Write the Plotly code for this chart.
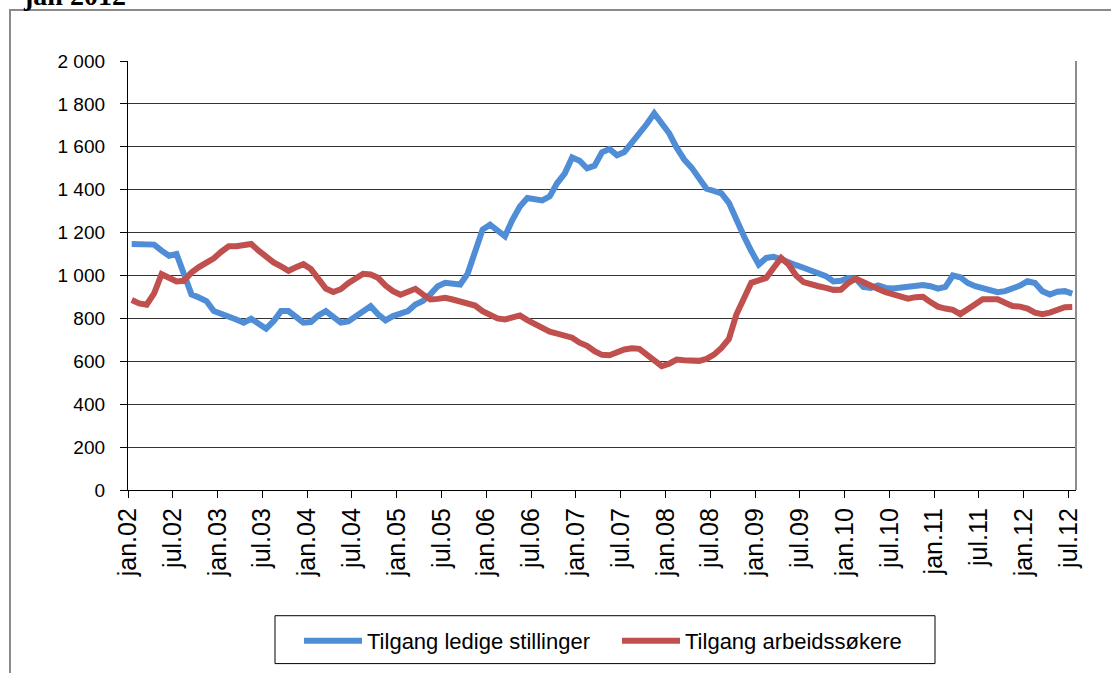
import plotly.graph_objects as go

# ---- data (monthly, jan.02 .. jul.12) ----
years = list(range(2002, 2013))
month_names = ["jan", "feb", "mar", "apr", "mai", "jun", "jul", "aug", "sep", "okt", "nov", "des"]
months = [f"{m}.{y % 100:02d}" for y in years for m in month_names][:127]

ledige_stillinger = [
    1147, 1147, 1145, 1144, 1116, 1092, 1100, 998, 912, 897, 881, 834,
    822, 814, 795, 780, 798, 775, 752, 787, 834, 834, 803, 780,
    783, 814, 834, 808, 780, 786, 812, 834, 857, 819, 791, 811,
    826, 834, 865, 881, 912, 950, 966, 963, 958, 1009, 1121, 1214,
    1237, 1214, 1183, 1260, 1322, 1361, 1353, 1350, 1369, 1431, 1475, 1550,
    1535, 1500, 1512, 1574, 1590, 1561, 1576, 1616, 1656, 1706, 1756, 1705,
    1663, 1596, 1541, 1503, 1456, 1405, 1394, 1383, 1339, 1258, 1184, 1114,
    1051, 1082, 1087, 1075, 1059, 1048, 1036, 1025, 1009, 997, 972, 975,
    988, 985, 947, 942, 954, 942, 939, 944, 947, 950, 956, 950,
    939, 947, 1000, 992, 965, 950, 942, 927, 922, 927, 939, 953,
    973, 965, 927, 911, 924, 927, 916,
]

arbeidssokere = [
    886, 870, 864, 917, 1006, 986, 972, 975, 1014, 1039, 1056, 1080,
    1111, 1136, 1136, 1139, 1147, 1116, 1084, 1061, 1042, 1022, 1038, 1053,
    1030, 983, 939, 923, 936, 964, 990, 1008, 1005, 989, 953, 927,
    910, 927, 938, 912, 888, 891, 896, 888, 881, 873, 860, 834,
    816, 800, 795, 806, 814, 792, 772, 754, 738, 729, 721, 710,
    687, 672, 647, 630, 628, 642, 655, 661, 658, 631, 600, 577,
    589, 608, 605, 600, 602, 611, 631, 662, 704, 818, 888, 966,
    977, 989, 1036, 1082, 1051, 1000, 969, 956, 950, 942, 933, 934,
    965, 985, 968, 947, 937, 922, 911, 899, 892, 899, 901, 876,
    855, 846, 840, 820, 840, 866, 889, 892, 889, 873, 858, 855,
    846, 827, 820, 827, 843, 852, 853,
]

series_names = ["Tilgang ledige stillinger", "Tilgang arbeidssøkere"]
colors = ["#4F8DD6", "#C0504D"]

y_tickvals = list(range(0, 2001, 200))
y_ticktext = ["0", "200", "400", "600", "800", "1 000", "1 200", "1 400", "1 600", "1 800", "2 000"]

x_tick_labels = [m for m in months[::6]]
x_index = list(range(len(months)))
x_tickvals = [i - 0.5 for i in range(0, len(months), 6)]

FONT = "Liberation Sans, Arial, sans-serif"

fig = go.Figure()
for name, vals, col in zip(series_names, [ledige_stillinger, arbeidssokere], colors):
    fig.add_trace(go.Scatter(
        x=x_index, y=vals, name=name, mode="lines",
        line=dict(color=col, width=6),
        text=months, hovertemplate="%{text}: %{y}<extra>" + name + "</extra>",
    ))

W, H = 1111, 673
L, R, T, B = 128, 35, 61, 182
pw, ph = W - L - R, H - T - B


def px_x(p):
    return (p - L) / pw


def px_y(p):
    return (H - B - p) / ph


fig.update_layout(
    width=W, height=H,
    margin=dict(l=L, r=R, t=T, b=B, pad=0),
    paper_bgcolor="white", plot_bgcolor="white",
    font=dict(family=FONT, color="black", size=20),
    showlegend=True,
    legend=dict(
        orientation="h", x=px_x(299), xanchor="left", y=px_y(641), yanchor="middle",
        borderwidth=0, bgcolor="rgba(0,0,0,0)",
        font=dict(family=FONT, size=22, color="black"),
        itemwidth=58, entrywidth=245, entrywidthmode="pixels",
    ),
    xaxis=dict(
        range=[-0.5, len(months) - 0.5],
        tickvals=x_tickvals, ticktext=x_tick_labels, tickangle=-90,
        showgrid=False, zeroline=False,
        showline=True, linecolor="black", linewidth=1.3,
        ticks="outside", ticklen=7, tickwidth=1.3, tickcolor="black",
        tickfont=dict(family=FONT, size=25, color="black"),
    ),
    yaxis=dict(
        range=[0, 2000],
        tickvals=y_tickvals, ticktext=y_ticktext,
        showgrid=True, gridcolor="#333333", gridwidth=1.3,
        zeroline=False,
        showline=True, linecolor="black", linewidth=1.3,
        ticks="outside", ticklen=7, tickwidth=1.3, tickcolor="black",
        ticklabelstandoff=11,
        tickfont=dict(family=FONT, size=19, color="black"),
    ),
    shapes=[
        # plot area right border
        dict(type="line", xref="paper", yref="paper", x0=1, x1=1, y0=0, y1=1,
             line=dict(color="#8c8c8c", width=2)),
        # outer chart frame (left and top edges)
        dict(type="path", xref="paper", yref="paper",
             path=f"M {px_x(10)} {px_y(700)} L {px_x(10)} {px_y(10)} L {px_x(1120)} {px_y(10)}",
             line=dict(color="#8a8a8a", width=2)),
        # legend box
        dict(type="rect", xref="paper", yref="paper",
             x0=px_x(275), x1=px_x(935), y0=px_y(665), y1=px_y(617),
             line=dict(color="black", width=1), fillcolor="rgba(0,0,0,0)"),
    ],
    annotations=[
        dict(text="<b>jan 2012</b>", xref="paper", yref="paper",
             x=px_x(21), y=px_y(13), xanchor="left", yanchor="bottom",
             showarrow=False,
             font=dict(family="Liberation Serif, Times New Roman, serif", size=28, color="black")),
    ],
)

fig.write_html("out.html", config={"displayModeBar": False},
               post_script="document.body.style.margin='0';")
